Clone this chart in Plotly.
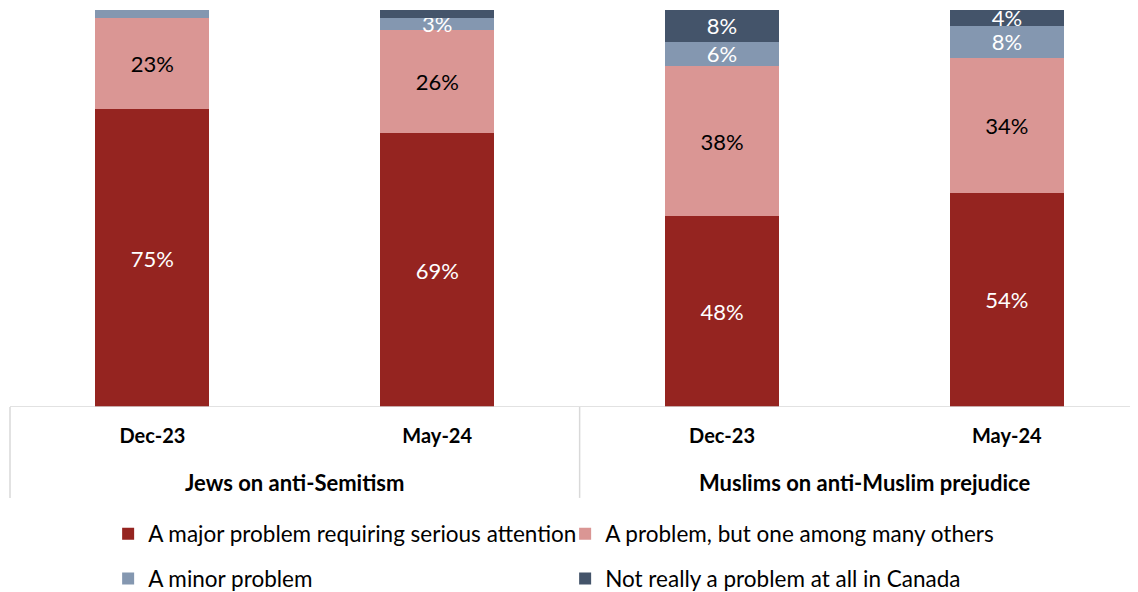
import plotly.graph_objects as go

groups = ["Jews on anti-Semitism", "Muslims on anti-Muslim prejudice"]
periods = ["Dec-23", "May-24", "Dec-23", "May-24"]
series_names = [
    "A major problem requiring serious attention",
    "A problem, but one among many others",
    "A minor problem",
    "Not really a problem at all in Canada",
]
major = [75, 69, 48, 54]
problem = [23, 26, 38, 34]
minor = [2, 3, 6, 8]
not_really = [0, 2, 8, 4]

colors = ["#952420", "#da9694", "#8497b0", "#44546a"]
text_colors = ["white", "black", "white", "white"]
FONT = "Lato"

x = list(range(len(periods)))
fig = go.Figure()
all_vals = [major, problem, minor, not_really]
for i, (name, vals) in enumerate(zip(series_names, all_vals)):
    fig.add_trace(go.Bar(
        x=x, y=vals, name=name,
        marker=dict(color=colors[i], line=dict(width=0)),
        text=[f"{v}%" if v >= 3 else "" for v in vals],
        textposition="inside",
        insidetextanchor="middle",
        textangle=0,
        constraintext="none",
        textfont=dict(color=text_colors[i], size=22, family=FONT),
        hoverinfo="skip",
        legend="legend" if i < 2 else "legend2",
    ))

# page body has an 8px default margin, so the figure is sized to fit the window
fig.update_layout(
    barmode="stack",
    bargap=0.6,
    width=1130, height=584,
    margin=dict(l=2, r=0, t=2, b=185, autoexpand=False),
    plot_bgcolor="white", paper_bgcolor="white",
    font=dict(family=FONT, color="black"),
    xaxis=dict(
        tickmode="array", tickvals=x, ticktext=periods,
        range=[-0.5, 3.4605], showgrid=False, zeroline=False, showline=False,
        ticks="", ticklabelstandoff=15, automargin=False,
        tickfont=dict(size=20, family=FONT, weight="bold", color="black"),
    ),
    yaxis=dict(range=[0, 100], visible=False, automargin=False),
    legend=dict(
        orientation="h", x=0.087, xanchor="left", y=-0.32, yanchor="middle",
        entrywidth=412, entrywidthmode="pixels", traceorder="normal",
        font=dict(size=22.5, family=FONT, color="black"), itemclick=False,
    ),
    legend2=dict(
        orientation="h", x=0.087, xanchor="left", y=-0.433, yanchor="middle",
        entrywidth=412, entrywidthmode="pixels", traceorder="normal",
        font=dict(size=22.5, family=FONT, color="black"), itemclick=False,
    ),
    showlegend=True,
)

line_col = "#d9d9d9"
fig.add_shape(type="line", xref="paper", yref="y", x0=0, x1=1, y0=0, y1=0,
              line=dict(color=line_col, width=1.5))
fig.add_shape(type="line", xref="paper", yref="paper", x0=0, x1=0,
              y0=0, y1=-0.229, line=dict(color=line_col, width=1.5))
fig.add_shape(type="line", xref="x", yref="paper", x0=1.5, x1=1.5,
              y0=0, y1=-0.229, line=dict(color=line_col, width=1.5))

for gi, g in enumerate(groups):
    fig.add_annotation(x=0.5 + 2 * gi, y=-0.1914, xref="x", yref="paper",
                       text=f"<b>{g}</b>", showarrow=False, yanchor="middle",
                       font=dict(size=22, family=FONT, color="black"))

fig.write_html("out.html")
